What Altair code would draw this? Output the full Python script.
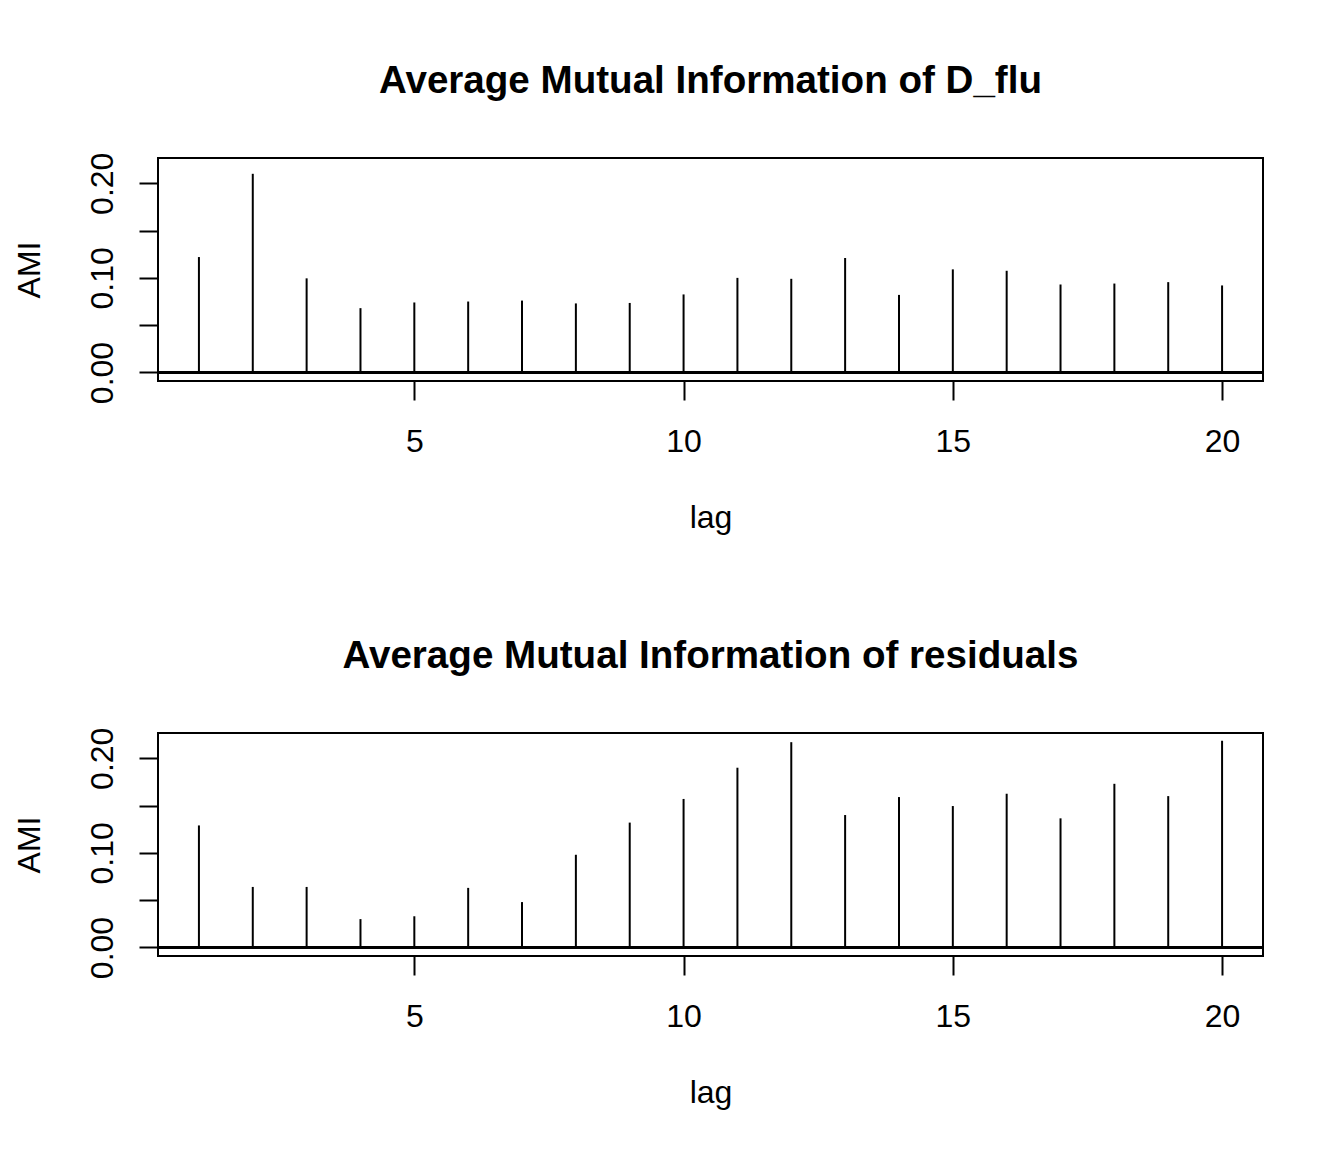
import altair as alt
import pandas as pd

lags = [1, 2, 3, 4, 5, 6, 7, 8, 9, 10, 11, 12, 13, 14, 15, 16, 17, 18, 19, 20]
ami_dflu = [0.122, 0.210, 0.0995, 0.068, 0.074, 0.075, 0.076, 0.073, 0.0735, 0.0825,
            0.100, 0.099, 0.121, 0.082, 0.109, 0.1075, 0.093, 0.094, 0.0955, 0.092]
ami_resid = [0.129, 0.064, 0.064, 0.030, 0.033, 0.063, 0.048, 0.098, 0.132, 0.157,
             0.190, 0.217, 0.140, 0.159, 0.1495, 0.1625, 0.1365, 0.173, 0.160, 0.2185]
titles = ["Average Mutual Information of D_flu", "Average Mutual Information of residuals"]
x_ticks = [5, 10, 15, 20]
y_ticks = [0, 0.05, 0.10, 0.15, 0.20]

FONT = "Liberation Sans"
W, H = 1105, 223


def ami_panel(values, title):
    df = pd.DataFrame({"lag": lags, "AMI": values})
    x_scale = alt.Scale(domain=[0.24, 20.76], nice=False, zero=False)
    y_scale = alt.Scale(domain=[-0.0090, 0.2267], nice=False, zero=False)

    stems = alt.Chart(df).mark_rule(color="black", strokeWidth=2).encode(
        x=alt.X("lag:Q", scale=x_scale,
                axis=alt.Axis(values=x_ticks, title="lag", titleX=W / 2, titleY=146,
                              titleAlign="center", titleBaseline="alphabetic",
                              labelBaseline="alphabetic", labelPadding=51)),
        y=alt.Y("AMI:Q", scale=y_scale,
                axis=alt.Axis(values=y_ticks, title="AMI", titleAngle=270,
                              titleX=-119, titleY=H / 2, titleAlign="center",
                              titleBaseline="alphabetic", labelAngle=270,
                              labelAlign="center", labelBaseline="alphabetic",
                              labelPadding=27, labelOverlap=False,
                              labelExpr="round(datum.value * 100) % 10 == 0 ? format(datum.value, '.2f') : ''")),
        y2=alt.datum(0),
    )
    zero_line = alt.Chart(df).mark_rule(color="black", strokeWidth=2).encode(
        y=alt.datum(0, scale=y_scale)
    )
    return (stems + zero_line).properties(
        width=W, height=H,
        title=alt.TitleParams(title, font=FONT, fontSize=38.6, fontWeight="bold",
                              color="black", anchor="middle", frame="group",
                              baseline="alphabetic", offset=21),
    )


chart = alt.vconcat(ami_panel(ami_dflu, titles[0]), ami_panel(ami_resid, titles[1]),
                    spacing=101).properties(
    padding={"left": 4, "top": 52, "right": 5, "bottom": 5},
    background="white",
).configure_view(
    stroke="black", strokeWidth=2
).configure_axis(
    domain=False, grid=False, ticks=True, tickColor="black", tickWidth=2, tickSize=19,
    labelFont=FONT, labelFontSize=32, labelColor="black",
    titleFont=FONT, titleFontSize=32, titleColor="black", titleFontWeight="normal",
)

chart.save("out.html", embed_options={"renderer": "svg", "actions": False})
